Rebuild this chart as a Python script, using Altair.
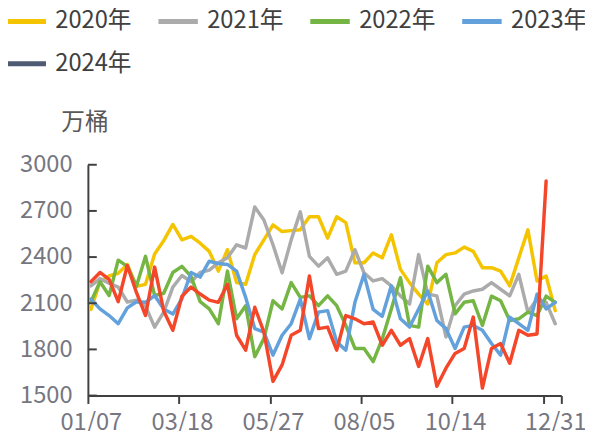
import altair as alt
import pandas as pd

FONT = "Noto Sans CJK SC"

years = ["2020年", "2021年", "2022年", "2023年", "2024年"]
legend_colors = ["#F5C400", "#ABABAB", "#74B543", "#62A1DC", "#4E5B73"]
red_color = "#F4472A"

x_labels = ["01/07", "03/18", "05/27", "08/05", "10/14", "12/31"]
y_ticks = [1500, 1800, 2100, 2400, 2700, 3000]

y2020 = [2060, 2240, 2277, 2295, 2352, 2210, 2223, 2420, 2507, 2612, 2512, 2534, 2490,
         2437, 2309, 2448, 2234, 2223, 2416, 2512, 2609, 2566, 2572, 2577, 2662, 2662,
         2523, 2662, 2624, 2363, 2363, 2427, 2395, 2545, 2320, 2234, 2159, 2095, 2363,
         2416, 2427, 2465, 2437, 2331, 2331, 2309, 2213, 2395, 2577, 2245, 2277, 2052]
y2021 = [2213, 2260, 2230, 2205, 2108, 2120, 2080, 1945, 2042, 2205, 2280, 2240, 2300,
         2315, 2363, 2395, 2480, 2459, 2726, 2641, 2480, 2298, 2512, 2694, 2405, 2341,
         2395, 2288, 2309, 2448, 2298, 2245, 2260, 2213, 2148, 2095, 2416, 2159, 2148,
         1881, 2084, 2159, 2180, 2191, 2234, 2191, 2148, 2288, 2042, 2127, 2106, 1967]
y2022 = [2110, 2240, 2150, 2380, 2340, 2210, 2405, 2150, 2165, 2300, 2340, 2275, 2110,
         2063, 1967, 2309, 1999, 2084, 1753, 1870, 2116, 2063, 2234, 2138, 2148, 2084,
         2148, 2084, 1956, 1806, 1806, 1721, 1868, 2063, 2266, 1956, 1945, 2341, 2234,
         2288, 2031, 2106, 2116, 1956, 2146, 2116, 1988, 1999, 2042, 2020, 2146, 2106]
y2023 = [2127, 2063, 2020, 1967, 2070, 2110, 2106, 2150, 2063, 2030, 2130, 2300, 2270,
         2373, 2358, 2352, 2309, 2138, 1935, 1913, 1763, 1892, 1967, 2127, 1870, 2042,
         2052, 1849, 1795, 2106, 2288, 2060, 2015, 2213, 1999, 1945, 2063, 2180, 1988,
         1935, 1806, 1945, 1956, 1924, 1838, 1763, 2010, 1967, 1924, 2159, 2063, 2106]
y2024 = [2240, 2300, 2255, 2110, 2345, 2170, 2020, 2335, 2050, 1924, 2145, 2205, 2160,
         2120, 2106, 2223, 1892, 1795, 2074, 1913, 1592, 1699, 1892, 1924, 2277, 1935,
         1945, 1795, 2020, 1999, 1967, 1978, 1827, 1924, 1827, 1870, 1689, 1870, 1560,
         1678, 1774, 1806, 2010, 1549, 1806, 1838, 1710, 1924, 1892, 1900, 2895]

rows = []
for name, vals in zip(years[:4], [y2020, y2021, y2022, y2023]):
    for i, v in enumerate(vals):
        rows.append({"week": i, "value": v, "year": name})
df_main = pd.DataFrame(rows)
df_red = pd.DataFrame({"week": list(range(len(y2024))), "value": y2024})
df_ticks = pd.DataFrame({"value": y_ticks})

X0 = -0.33
tick_vals = [X0, X0 + 10, X0 + 20, X0 + 30, X0 + 40, X0 + 50, X0 + 51, X0 + 52]
label_expr = (
    f"datum.value < 5 ? '{x_labels[0]}' : datum.value < 15 ? '{x_labels[1]}' : "
    f"datum.value < 25 ? '{x_labels[2]}' : datum.value < 35 ? '{x_labels[3]}' : "
    f"datum.value < 45 ? '{x_labels[4]}' : (datum.value > 50 && datum.value < 51) ? '{x_labels[5]}' : ''"
)

xenc = alt.X(
    "week:Q",
    scale=alt.Scale(domain=[X0, X0 + 52], nice=False, zero=False),
    axis=alt.Axis(
        values=tick_vals,
        labelExpr=label_expr,
        title=None,
        tickSize=8,
        tickWidth=2,
        tickColor="#404040",
        tickOpacity={"condition": {"test": "datum.value > 50 && datum.value < 51", "value": 0}, "value": 1},
        labelPadding=7,
        labelOffset=3,
        labelOverlap=False,
        labelFlush=False,
        labelBound=False,
    ),
)
yenc = alt.Y(
    "value:Q",
    scale=alt.Scale(domain=[1500, 3000], nice=False, zero=False),
    axis=alt.Axis(
        values=y_ticks,
        format="d",
        ticks=False,
        tickSize=0,
        labelPadding=16,
        title="万桶",
        titleAngle=0,
        titleX=-3.5,
        titleY=-43,
        titleAlign="center",
        titleBaseline="middle",
        titleFont=FONT,
        titleFontSize=24,
        titleFontWeight="normal",
        titleColor="#595959",
        labelBaseline="middle",
    ),
)

lines = alt.Chart(df_main).mark_line(strokeWidth=3.5, strokeJoin="round", strokeCap="round").encode(
    x=xenc,
    y=yenc,
    color=alt.Color(
        "year:N",
        scale=alt.Scale(domain=years, range=legend_colors),
        legend=alt.Legend(
            orient="none",
            legendX=-85,
            legendY=-168,
            direction="horizontal",
            columns=4,
            symbolType="stroke",
            symbolSize=1600,
            symbolStrokeWidth=5,
            labelFont=FONT,
            labelFontSize=24,
            labelColor="#404040",
            labelOffset=7,
            columnPadding=16,
            rowPadding=8,
            padding=0,
            title=None,
        ),
    ),
)

red = alt.Chart(df_red).mark_line(strokeWidth=3.5, strokeJoin="round", strokeCap="round", color=red_color).encode(
    x=xenc,
    y=yenc,
)

inner_ticks = alt.Chart(df_ticks).mark_rule(color="#404040", strokeWidth=2).encode(
    y=yenc,
    x=alt.value(0),
    x2=alt.value(9),
)

chart = alt.layer(lines, red, inner_ticks).properties(
    width=480,
    height=234,
    autosize=alt.AutoSizeParams(type="none"),
    padding={"left": 81, "top": 156, "right": 24, "bottom": 33},
).configure_view(stroke=None).configure_axis(
    domainColor="#404040",
    domainWidth=2,
    labelFont=FONT,
    labelFontSize=24,
    labelColor="#767681",
    grid=False,
)

chart.save("out.html", embed_options={"renderer": "svg", "actions": False})
